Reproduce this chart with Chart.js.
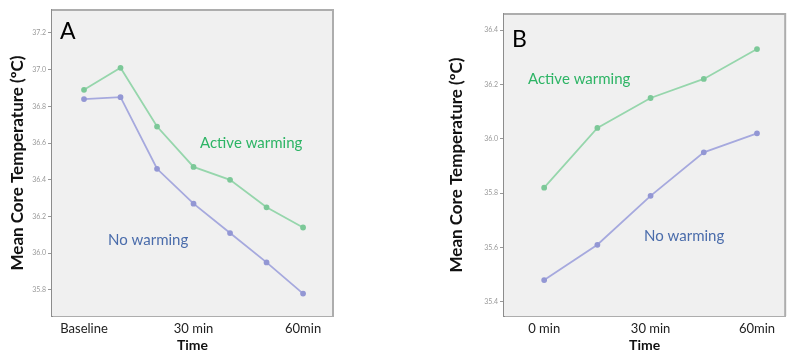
<!DOCTYPE html>
<html>
<head>
<meta charset="utf-8">
<script src="https://cdn.jsdelivr.net/npm/chart.js@4"></script>
<style>
  html, body { margin: 0; padding: 0; background: #fff; width: 791px; height: 354px; overflow: hidden; }
  canvas { position: absolute; top: 0; }
  #panelA { left: 0; }
  #panelB { left: 430px; }
</style>
</head>
<body>
<canvas id="panelA" width="400" height="354"></canvas>
<canvas id="panelB" width="361" height="354"></canvas>
<script>
// Panel A: core temperature over the first hour
const timeLabelsA = ['Baseline', '', '', '30 min', '', '', '60min'];
const activeWarmingA = [36.89, 37.01, 36.69, 36.47, 36.40, 36.25, 36.14];
const noWarmingA = [36.84, 36.85, 36.46, 36.27, 36.11, 35.95, 35.78];
const tempTicksA = [37.2, 37.0, 36.8, 36.6, 36.4, 36.2, 36.0, 35.8];

// Panel B
const timeLabelsB = ['0 min', '', '30 min', '', '60min'];
const activeWarmingB = [35.82, 36.04, 36.15, 36.22, 36.33];
const noWarmingB = [35.48, 35.61, 35.79, 35.95, 36.02];
const tempTicksB = [36.4, 36.2, 36.0, 35.8, 35.6, 35.4];

const FONT = "Lato, 'Open Sans', sans-serif";
const GREEN_LINE = '#96d6ac';
const GREEN_PT = '#7cc898';
const BLUE_LINE = '#a6a9de';
const BLUE_PT = '#9397d4';
const GREEN_TEXT = '#2db465';
const BLUE_TEXT = '#4a6cab';

function toPoints(values) {
  return values.map((v, i) => ({ x: i, y: v }));
}

// Shaded plot area, frame and in-plot labels
function panelDecor(letter, notes) {
  return {
    id: 'panelDecor',
    beforeDatasetsDraw(chart) {
      const { ctx, chartArea: a } = chart;
      ctx.save();
      ctx.fillStyle = '#f0f0f0';
      ctx.fillRect(a.left, a.top, a.right - a.left, a.bottom - a.top);
      ctx.strokeStyle = '#adadad';
      ctx.lineWidth = 2;
      ctx.beginPath();
      ctx.moveTo(a.left, a.top);
      ctx.lineTo(a.right, a.top);
      ctx.lineTo(a.right, a.bottom);
      ctx.stroke();
      ctx.restore();
    },
    afterDraw(chart) {
      const { ctx, chartArea: a } = chart;
      ctx.save();
      ctx.textBaseline = 'middle';
      ctx.textAlign = 'left';
      ctx.fillStyle = '#000';
      ctx.font = `23px ${FONT}`;
      ctx.fillText(letter.text, a.left + letter.dx, a.top + letter.dy);
      notes.forEach(n => {
        ctx.fillStyle = n.color;
        ctx.font = `15px ${FONT}`;
        ctx.fillText(n.text, a.left + n.dx, a.top + n.dy);
      });
      ctx.restore();
    }
  };
}

function makePanel(id, opts) {
  new Chart(document.getElementById(id), {
    type: 'line',
    data: {
      datasets: [
        {
          label: 'Active warming',
          data: toPoints(opts.active),
          borderColor: GREEN_LINE,
          backgroundColor: GREEN_PT,
          pointBackgroundColor: GREEN_PT,
          pointBorderColor: GREEN_PT,
          borderWidth: 1.8,
          pointRadius: 2,
          tension: 0
        },
        {
          label: 'No warming',
          data: toPoints(opts.none),
          borderColor: BLUE_LINE,
          backgroundColor: BLUE_PT,
          pointBackgroundColor: BLUE_PT,
          pointBorderColor: BLUE_PT,
          borderWidth: 1.8,
          pointRadius: 2,
          tension: 0
        }
      ]
    },
    options: {
      responsive: false,
      animation: false,
      events: [],
      layout: { padding: opts.padding },
      plugins: { legend: { display: false }, tooltip: { enabled: false } },
      scales: {
        x: {
          type: 'linear',
          min: opts.xMin,
          max: opts.xMax,
          afterBuildTicks: s => { s.ticks = opts.labels.map((_, i) => ({ value: i })); },
          afterFit: s => { s.height = opts.xHeight; },
          ticks: {
            autoSkip: false,
            maxRotation: 0,
            padding: 5,
            color: '#222',
            font: { size: 13, family: FONT },
            callback: (v, i) => opts.labels[i] || ''
          },
          grid: { drawOnChartArea: false, drawTicks: false },
          border: { display: true, color: '#adadad', width: 2 },
          title: {
            display: true,
            text: 'Time',
            color: '#111',
            font: { size: 14, weight: 'bold', family: FONT },
            padding: { top: 0, bottom: 0 }
          }
        },
        y: {
          type: 'linear',
          min: opts.yMin,
          max: opts.yMax,
          afterBuildTicks: s => { s.ticks = opts.ticks.map(v => ({ value: v })); },
          afterFit: s => { s.width = opts.yWidth; },
          ticks: {
            padding: 2,
            color: '#9a9a9a',
            font: { size: 7, family: FONT },
            callback: v => v.toFixed(1)
          },
          grid: { drawOnChartArea: false, drawTicks: true, tickLength: 4, color: '#999', lineWidth: 1 },
          border: { display: true, color: '#8c8c8c', width: 2 },
          title: {
            display: true,
            text: 'Mean Core Temperature (ºC)',
            color: '#111',
            font: { size: 17, weight: 'bold', family: FONT },
            padding: { top: opts.yTitlePad, bottom: 0 }
          }
        }
      }
    },
    plugins: [panelDecor(opts.letter, opts.notes)]
  });
}

makePanel('panelA', {
  labels: timeLabelsA,
  active: activeWarmingA,
  none: noWarmingA,
  ticks: tempTicksA,
  xMin: -0.877, xMax: 6.82,
  yMin: 35.658, yMax: 37.325,
  padding: { left: 0, top: 10, right: 67, bottom: 0 },
  xHeight: 38,
  yWidth: 52,
  yTitlePad: 7,
  letter: { text: 'A', dx: 8, dy: 22 },
  notes: [
    { text: 'Active warming', color: GREEN_TEXT, dx: 148, dy: 133 },
    { text: 'No warming', color: BLUE_TEXT, dx: 56, dy: 230 }
  ]
});

makePanel('panelB', {
  labels: timeLabelsB,
  active: activeWarmingB,
  none: noWarmingB,
  ticks: tempTicksB,
  xMin: -0.755, xMax: 4.53,
  yMin: 35.348, yMax: 36.459,
  padding: { left: 0, top: 14, right: 0, bottom: 0 },
  xHeight: 38,
  yWidth: 74,
  yTitlePad: 16,
  letter: { text: 'B', dx: 8, dy: 26 },
  notes: [
    { text: 'Active warming', color: GREEN_TEXT, dx: 24, dy: 65 },
    { text: 'No warming', color: BLUE_TEXT, dx: 140, dy: 222 }
  ]
});
</script>
</body>
</html>
